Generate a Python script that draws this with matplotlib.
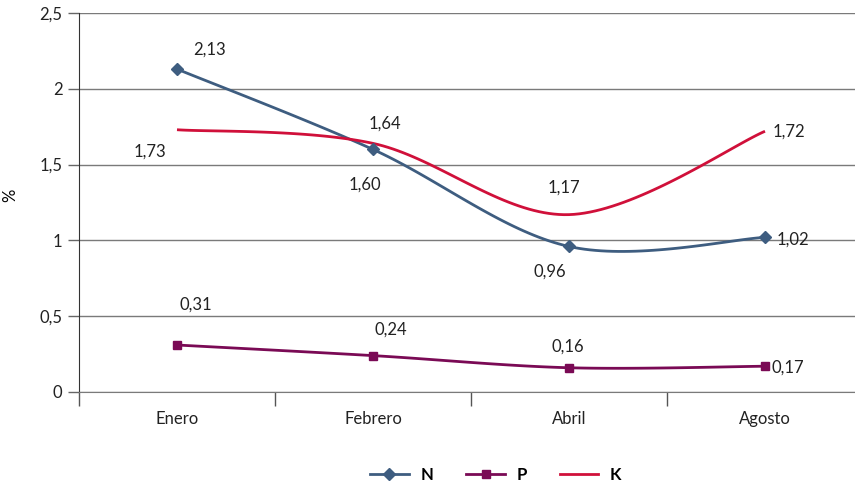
import numpy as np
import matplotlib
matplotlib.use('Agg')
import matplotlib.pyplot as plt

plt.rcParams['font.family'] = ['Lato', 'DejaVu Sans']

# Monthly nutrient contents (%)
meses = ['Enero', 'Febrero', 'Abril', 'Agosto']
valores_n = [2.13, 1.60, 0.96, 1.02]
valores_p = [0.31, 0.24, 0.16, 0.17]
valores_k = [1.73, 1.64, 1.17, 1.72]

# label offsets in pixels for each point label
off_n = [(32, 19), (-8, -35), (-19, -25), (28, -2)]
off_p = [(19, 40), (18, 26), (-1, 21), (23, -1)]
off_k = [(-27, -22), (12, 20), (-5, 27), (24, 0)]

col_n = '#3e5d80'
col_p = '#7a0a55'
col_k = '#d0103a'


def suavizar(x, y, n=40):
    # Catmull-Rom curve through the points, like Excel's smoothed lines
    x = np.asarray(x, float)
    y = np.asarray(y, float)
    px = np.concatenate([[x[0]], x, [x[-1]]])
    py = np.concatenate([[y[0]], y, [y[-1]]])
    xs, ys = [], []
    t = np.linspace(0, 1, n)
    for i in range(1, len(px) - 2):
        p0, p1, p2, p3 = (np.array([px[j], py[j]]) for j in range(i - 1, i + 3))
        c1 = p1 + (p2 - p0) / 6
        c2 = p2 - (p3 - p1) / 6
        b = ((1 - t) ** 3)[:, None] * p1 + (3 * (1 - t) ** 2 * t)[:, None] * c1 \
            + (3 * (1 - t) * t ** 2)[:, None] * c2 + (t ** 3)[:, None] * p2
        xs.append(b[:, 0])
        ys.append(b[:, 1])
    return np.concatenate(xs), np.concatenate(ys)


fig = plt.figure(figsize=(8.55, 4.87), dpi=100)
ax = fig.add_axes([79 / 855, 95 / 487, 784 / 855, 379 / 487])

x = np.arange(len(meses))

for vals, col, mk, ms, lab, offs in [
        (valores_n, col_n, 'D', 6.5, 'N', off_n),
        (valores_p, col_p, 's', 6, 'P', off_p),
        (valores_k, col_k, None, 0, 'K', off_k)]:
    sx, sy = suavizar(x, vals)
    ax.plot(sx, sy, color=col, lw=2, solid_capstyle='butt', zorder=3)
    if mk:
        ax.plot(x, vals, linestyle='none', marker=mk, ms=ms, color=col, zorder=4)
    for xi, v, (dx, dy) in zip(x, vals, offs):
        ax.annotate(f'{v:.2f}'.replace('.', ','), (xi, v), xytext=(dx, dy),
                    textcoords='offset pixels', ha='center', va='center',
                    fontsize=12, color='#222222')
    # legend proxy
    ax.plot([], [], color=col, lw=2, marker=mk, ms=ms if mk else 0, label=lab)

ax.set_xlim(-0.5, 3.5)
ax.set_ylim(0, 2.5)
ax.set_yticks(np.arange(0, 2.51, 0.5))
ax.set_yticklabels(['0', '0,5', '1', '1,5', '2', '2,5'])
ax.set_xticks(x)
ax.set_xticklabels(meses)
ax.set_xticks(np.arange(-0.5, 3.6, 1), minor=True)
ax.tick_params(axis='x', which='major', length=0, pad=14, labelsize=12, colors='#222222')
ax.tick_params(axis='x', which='minor', length=10, width=1, color='#555555')
ax.tick_params(axis='y', length=8, width=1, color='#666666', labelsize=12, labelcolor='#222222', pad=4)

ax.grid(axis='y', color='#7a7a7a', lw=1)
ax.set_axisbelow(True)
for s in ['top', 'right']:
    ax.spines[s].set_visible(False)
ax.spines['left'].set_color('#333333')
ax.spines['bottom'].set_color('#7a7a7a')

ax.set_ylabel('%', fontsize=12)
ax.yaxis.set_label_coords(-61 / 784, 0.52)

leg = fig.legend(loc='center', bbox_to_anchor=(0.58, 0.025),
                 ncol=3, frameon=False, handlelength=2.3, columnspacing=2.0,
                 handletextpad=0.7, prop={'weight': 'bold', 'size': 12})

fig.savefig('out.png', dpi=100)
